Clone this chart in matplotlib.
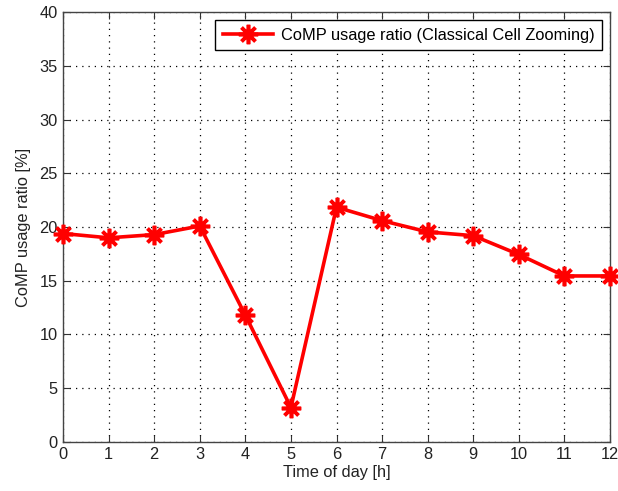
import matplotlib
matplotlib.use("Agg")
import matplotlib.pyplot as plt

hours = [0, 1, 2, 3, 4, 5, 6, 7, 8, 9, 10, 11, 12]
comp_ratio = [19.4, 19.0, 19.3, 20.1, 11.8, 3.2, 21.85, 20.6, 19.55, 19.2, 17.45, 15.45, 15.45]
y_ticks = [0, 5, 10, 15, 20, 25, 30, 35, 40]
series_label = "CoMP usage ratio (Classical Cell Zooming)"

plt.rcParams["font.family"] = ["Liberation Sans", "DejaVu Sans"]
plt.rcParams["font.size"] = 11.8

fig = plt.figure(figsize=(6.18, 4.91), dpi=100)
ax = fig.add_axes([0.102, 0.100, 0.885, 0.875])

# asterisk marker: 8 spokes from the centre
ax.plot(hours, comp_ratio, color="red", linewidth=2.6, marker=(8, 2, 0),
        markersize=14, markeredgewidth=2.6, label=series_label,
        clip_on=False, zorder=3)

ax.set_xlim(0, 12)
ax.set_ylim(0, 40)
ax.set_xticks(hours)
ax.set_yticks(y_ticks)
ax.grid(True, color="black", linestyle=(0, (1, 4)), linewidth=0.9)
ax.tick_params(direction="in", top=True, right=True, length=5,
               colors="#333333", labelcolor="#222222", pad=4)
for s in ax.spines.values():
    s.set_color("#444444")
    s.set_linewidth(1.0)

ax.set_xlabel("Time of day [h]", color="#222222", labelpad=2)
ax.set_ylabel("CoMP usage ratio [%]", color="#222222", labelpad=6)

leg = ax.legend(loc="upper right", fancybox=False, edgecolor="black",
                framealpha=1, borderpad=0.45, handlelength=3.1,
                handletextpad=0.45, borderaxespad=0.5)
leg.get_frame().set_linewidth(1.0)

fig.savefig("out.png", dpi=100)
